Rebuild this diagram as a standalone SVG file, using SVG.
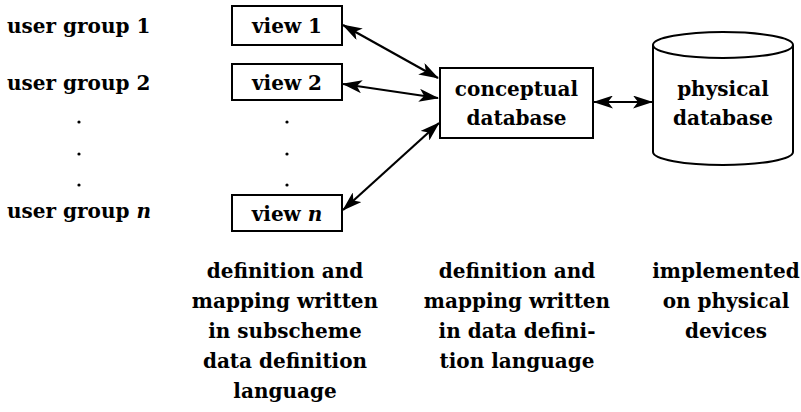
<svg xmlns="http://www.w3.org/2000/svg" width="801" height="412" viewBox="0 0 801 412">
  <style>
    text { font-family: "DejaVu Serif", "Liberation Serif", serif; font-weight: bold; font-size: 20px; fill: #000; }
    .c { text-anchor: middle; }
    .box { fill: #fff; stroke: #000; stroke-width: 2; }
    .edge { fill: none; stroke: #000; stroke-width: 2.2; marker-start: url(#head); marker-end: url(#head); }
    .dot { fill: #000; }
    .it { font-style: italic; }
  </style>
  <defs>
    <marker id="head" viewBox="0 0 20 13" refX="19" refY="6.5" markerWidth="20" markerHeight="13" markerUnits="userSpaceOnUse" orient="auto-start-reverse">
      <path d="M0,0 L20,6.5 L0,13 L5,6.5 Z" fill="#000"/>
    </marker>
  </defs>

  <rect width="801" height="412" fill="#fff"/>

  <!-- user group labels -->
  <g id="user-groups">
    <text x="7" y="33">user group 1</text>
    <text x="7" y="90">user group 2</text>
    <circle class="dot" cx="79" cy="122" r="1.6"/>
    <circle class="dot" cx="79" cy="154" r="1.6"/>
    <circle class="dot" cx="79" cy="185" r="1.6"/>
    <text x="7" y="218">user group <tspan class="it">n</tspan></text>
  </g>

  <!-- external views -->
  <g id="view1">
    <rect class="box" x="232" y="6" width="110" height="39"/>
    <text class="c" x="287" y="33">view 1</text>
  </g>
  <g id="view2">
    <rect class="box" x="232" y="64" width="110" height="36"/>
    <text class="c" x="287" y="90">view 2</text>
  </g>
  <g id="view-dots">
    <circle class="dot" cx="287" cy="122" r="1.6"/>
    <circle class="dot" cx="287" cy="154" r="1.6"/>
    <circle class="dot" cx="287" cy="185" r="1.6"/>
  </g>
  <g id="viewn">
    <rect class="box" x="232" y="195" width="110" height="36"/>
    <text class="c" x="287" y="221">view <tspan class="it">n</tspan></text>
  </g>

  <!-- conceptual schema -->
  <g id="conceptual">
    <rect class="box" x="440" y="68" width="153" height="70"/>
    <text class="c" x="516.5" y="96">conceptual</text>
    <text class="c" x="516.5" y="125">database</text>
  </g>

  <!-- physical storage -->
  <g id="physical">
    <path class="box" d="M653,45 L653,152 A70,13 0 0 0 793,152 L793,45 A70,13 0 0 0 653,45 Z"/>
    <path d="M653,45 A70,13 0 0 0 793,45" fill="none" stroke="#000" stroke-width="2"/>
    <text class="c" x="723" y="96">physical</text>
    <text class="c" x="723" y="125">database</text>
  </g>

  <!-- mappings -->
  <g id="connectors">
    <line class="edge" x1="343" y1="25" x2="438" y2="78"/>
    <line class="edge" x1="343" y1="84" x2="438" y2="98"/>
    <line class="edge" x1="343" y1="210" x2="439" y2="123"/>
    <line class="edge" x1="594" y1="102" x2="652" y2="102"/>
  </g>

  <!-- level descriptions -->
  <g id="notes">
    <text class="c" x="285" y="278">definition and</text>
    <text class="c" x="285" y="308">mapping written</text>
    <text class="c" x="285" y="338">in subscheme</text>
    <text class="c" x="285" y="368">data definition</text>
    <text class="c" x="285" y="398">language</text>

    <text class="c" x="517" y="278">definition and</text>
    <text class="c" x="517" y="308">mapping written</text>
    <text class="c" x="517" y="338">in data defini-</text>
    <text class="c" x="517" y="368">tion language</text>

    <text class="c" x="726" y="278">implemented</text>
    <text class="c" x="726" y="308">on physical</text>
    <text class="c" x="726" y="338">devices</text>
  </g>
</svg>
